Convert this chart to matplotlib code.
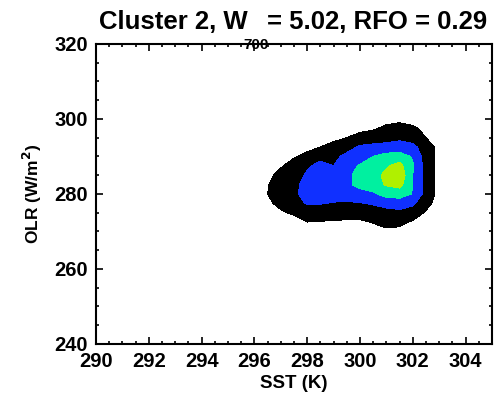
import numpy as np
import matplotlib.pyplot as plt
from matplotlib.ticker import MultipleLocator

# SST / OLR bins of the joint frequency field
sst = [296.0, 296.5, 297.0, 297.5, 298.0, 298.5, 299.0, 299.5,
       300.0, 300.5, 301.0, 301.5, 302.0, 302.5, 303.0, 303.5]
olr = [302.5, 300.0, 297.5, 295.0, 292.5, 290.0, 287.5, 285.0,
       282.5, 280.0, 277.5, 275.0, 272.5, 270.0, 267.5]

# relative frequency (rows follow olr, columns follow sst)
freq = [
    [0, 0, 0, 0, 0, 0, 0, 0, 0, 0, 0, 0, 0, 0, 0, 0],
    [0, 0, 0, 0, 0, 0, 0, 0, 0, 0, 0.10, 0.15, 0.05, 0, 0, 0],
    [0, 0, 0, 0, 0, 0, 0, 0, 0.10, 0.35, 0.75, 1.00, 0.70, 0.20, 0, 0],
    [0, 0, 0, 0, 0, 0, 0.20, 0.50, 1.00, 1.10, 1.20, 1.35, 1.10, 0.50, 0.05, 0],
    [0, 0, 0, 0, 0.20, 0.50, 0.90, 1.20, 1.60, 1.70, 1.75, 1.80, 1.75, 1.00, 0.20, 0],
    [0, 0, 0, 0.40, 0.80, 1.30, 1.30, 1.70, 2.00, 2.50, 2.90, 3.00, 2.40, 1.00, 0.20, 0],
    [0, 0, 0.40, 0.90, 1.40, 1.70, 1.50, 2.10, 2.60, 3.00, 3.40, 3.80, 2.60, 1.10, 0.20, 0],
    [0, 0.25, 0.80, 1.20, 1.60, 1.80, 2.00, 2.30, 2.80, 3.20, 3.70, 4.20, 2.50, 1.10, 0.20, 0],
    [0, 0.45, 0.90, 1.35, 1.70, 1.90, 2.05, 2.30, 2.80, 3.10, 3.60, 3.80, 2.50, 1.10, 0.20, 0],
    [0, 0.50, 1.00, 1.40, 1.70, 1.80, 1.85, 1.90, 2.10, 2.35, 2.90, 3.00, 2.45, 1.10, 0.20, 0],
    [0, 0.30, 0.80, 1.30, 1.55, 1.55, 1.45, 1.40, 1.45, 1.60, 1.80, 1.90, 1.70, 0.80, 0.10, 0],
    [0, 0, 0.35, 0.70, 1.00, 1.05, 1.00, 0.95, 0.95, 1.05, 1.20, 1.30, 1.00, 0.40, 0, 0],
    [0, 0, 0, 0, 0.50, 0.45, 0.40, 0.35, 0.35, 0.55, 0.75, 0.70, 0.40, 0, 0, 0],
    [0, 0, 0, 0, 0, 0, 0, 0, 0, 0.20, 0.35, 0.30, 0.10, 0, 0, 0],
    [0, 0, 0, 0, 0, 0, 0, 0, 0, 0, 0, 0, 0, 0, 0, 0],
]

levels = [0.5, 1.5, 2.5, 3.5, 10]
fill_colors = ['black', '#1030ff', '#00f0a0', '#b0f000']

plt.rcParams['font.family'] = ['Liberation Sans', 'DejaVu Sans']

fig = plt.figure(figsize=(5, 3.99), dpi=100)
ax = fig.add_axes([0.192, 0.138, 0.792, 0.752])

ax.contourf(sst, olr, np.array(freq), levels=levels, colors=fill_colors)

ax.set_xlim(290, 305)
ax.set_ylim(240, 320)
ax.xaxis.set_major_locator(MultipleLocator(2))
ax.xaxis.set_minor_locator(MultipleLocator(0.5))
ax.yaxis.set_major_locator(MultipleLocator(20))
ax.yaxis.set_minor_locator(MultipleLocator(5))
ax.tick_params(which='both', direction='in', top=True, right=True, width=1.2)
ax.tick_params(which='major', length=5, pad=6)
ax.tick_params(which='minor', length=2.5)
for lab in ax.get_xticklabels() + ax.get_yticklabels():
    lab.set_fontsize(14.5)
    lab.set_fontweight('bold')
for sp in ax.spines.values():
    sp.set_linewidth(1.5)

ax.set_xlabel('SST (K)', fontsize=13.5, fontweight='bold', labelpad=3)
ax.set_ylabel('OLR (W/m$^\\mathbf{2}$)', fontsize=12.5, fontweight='bold', labelpad=7)

# title in three pieces so the subscript on W sits low
fig.text(0.496, 0.927, 'Cluster 2, W', ha='right', va='baseline',
         fontsize=18.5, fontweight='bold')
fig.text(0.486, 0.877, '700', ha='left', va='baseline',
         fontsize=11, fontweight='bold')
fig.text(0.534, 0.927, '= 5.02, RFO = 0.29', ha='left', va='baseline',
         fontsize=18.5, fontweight='bold')

fig.savefig('out.png', dpi=100)
